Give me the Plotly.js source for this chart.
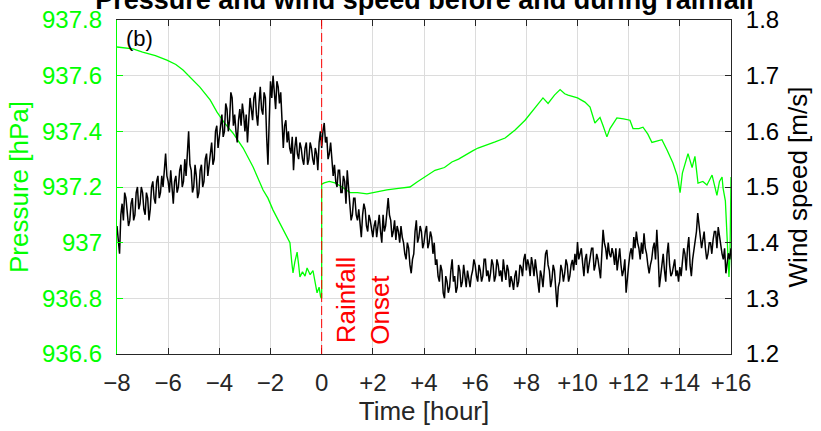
<!DOCTYPE html>
<html><head><meta charset="utf-8">
<script src="https://cdn.plot.ly/plotly-3.0.1.min.js"></script>
<style>html,body{margin:0;padding:0;background:#fff}#chart{width:821px;height:431px}</style>
</head><body><div id="chart"></div>
<script>
// ---- data ----
const pressureTime = [-8.0, -7.7, -7.375, -7.0, -6.5, -6.05, -5.7, -5.42, -5.1, -4.76,
  -4.36, -4.09, -3.8, -3.47, -3.07, -2.68, -2.29, -2.1, -1.9, -1.55,
  -1.3, -1.24, -1.17, -1.12, -1.05, -0.96, -0.9, -0.85, -0.75, -0.65,
  -0.57, -0.45, -0.34, -0.25, -0.18, -0.1, -0.04, 0.0, 0.0, 0.1,
  0.3, 0.52, 0.8, 1.11, 1.4, 1.77, 2.1, 2.55, 3.0, 3.45,
  3.73, 4.0, 4.23, 4.43, 4.8, 5.09, 5.35, 5.6, 5.9, 6.11,
  6.45, 6.78, 7.17, 7.56, 7.95, 8.34, 8.65, 8.85, 9.1, 9.32,
  9.5, 9.63, 10.0, 10.29, 10.49, 10.68, 10.88, 11.0, 11.15, 11.27,
  11.54, 11.8, 12.05, 12.17, 12.4, 12.56, 12.75, 12.91, 13.1, 13.3,
  13.5, 13.73, 13.9, 14.01, 14.1, 14.2, 14.32, 14.48, 14.59, 14.71,
  14.9, 15.06, 15.26, 15.45, 15.55, 15.65, 15.69, 15.78, 15.84, 15.92,
  15.96, 16.0];
const pressure = [937.703, 937.70, 937.696, 937.685, 937.672, 937.656, 937.64, 937.62, 937.59, 937.559,
  937.513, 937.469, 937.43, 937.394, 937.34, 937.272, 937.189, 937.16, 937.117, 937.053,
  937.01, 937.0, 936.93, 936.891, 936.93, 936.966, 936.92, 936.877, 936.895, 936.88,
  936.909, 936.885, 936.9, 936.86, 936.82, 936.84, 936.805, 936.80, 937.21, 937.215,
  937.22, 937.215, 937.2, 937.18, 937.18, 937.175, 937.182, 937.19, 937.195, 937.20,
  937.218, 937.235, 937.25, 937.26, 937.27, 937.29, 937.30, 937.315, 937.33, 937.34,
  937.35, 937.362, 937.376, 937.405, 937.44, 937.484, 937.52, 937.50, 937.53, 937.55,
  937.535, 937.53, 937.52, 937.505, 937.487, 937.43, 937.45, 937.42, 937.38, 937.41,
  937.448, 937.445, 937.44, 937.41, 937.41, 937.415, 937.39, 937.36, 937.365, 937.37,
  937.333, 937.286, 937.24, 937.18, 937.25, 937.286, 937.32, 937.27, 937.31, 937.214,
  937.22, 937.207, 937.243, 937.17, 937.22, 937.236, 937.196, 937.15, 937.01, 936.877,
  936.95, 937.236];

// wind speed sampled every 0.05 h from -8 h to +16 h (one row per hour)
const windSpeed = [
  1.43, 1.41, 1.38, 1.45, 1.47, 1.44, 1.49, 1.48, 1.46, 1.43, 1.44, 1.47, 1.48, 1.44, 1.45, 1.49, 1.50, 1.46, 1.47, 1.50,
  1.49, 1.46, 1.45, 1.49, 1.48, 1.44, 1.46, 1.50, 1.51, 1.48, 1.47, 1.51, 1.52, 1.48, 1.49, 1.52, 1.50, 1.53, 1.56, 1.52,
  1.51, 1.49, 1.53, 1.50, 1.47, 1.51, 1.52, 1.49, 1.50, 1.53, 1.54, 1.50, 1.51, 1.55, 1.52, 1.56, 1.60, 1.54, 1.53, 1.49,
  1.50, 1.54, 1.52, 1.48, 1.49, 1.53, 1.54, 1.50, 1.51, 1.55, 1.56, 1.52, 1.54, 1.57, 1.58, 1.54, 1.55, 1.60, 1.61, 1.57,
  1.59, 1.62, 1.63, 1.59, 1.60, 1.65, 1.64, 1.60, 1.62, 1.67, 1.66, 1.61, 1.63, 1.60, 1.58, 1.62, 1.64, 1.61, 1.65, 1.63,
  1.60, 1.63, 1.58, 1.62, 1.66, 1.64, 1.62, 1.66, 1.67, 1.63, 1.61, 1.65, 1.68, 1.64, 1.63, 1.67, 1.66, 1.59, 1.54, 1.62,
  1.69, 1.66, 1.70, 1.67, 1.64, 1.69, 1.68, 1.65, 1.67, 1.62, 1.57, 1.61, 1.62, 1.58, 1.60, 1.57, 1.56, 1.59, 1.53, 1.57,
  1.59, 1.56, 1.55, 1.58, 1.57, 1.55, 1.54, 1.57, 1.58, 1.54, 1.55, 1.58, 1.57, 1.55, 1.54, 1.57, 1.56, 1.53, 1.58, 1.60,
  1.57, 1.60, 1.615, 1.58, 1.59, 1.55, 1.56, 1.58, 1.55, 1.52, 1.54, 1.51, 1.50, 1.53, 1.53, 1.49, 1.49, 1.52, 1.51, 1.47,
  1.53, 1.49, 1.47, 1.44, 1.45, 1.48, 1.48, 1.45, 1.44, 1.46, 1.43, 1.41, 1.45, 1.47, 1.46, 1.43, 1.42, 1.45, 1.44, 1.42,
  1.41, 1.43, 1.44, 1.41, 1.43, 1.45, 1.42, 1.40, 1.45, 1.42, 1.43, 1.46, 1.48, 1.45, 1.44, 1.41, 1.42, 1.44, 1.405, 1.43,
  1.42, 1.40, 1.43, 1.41, 1.40, 1.38, 1.37, 1.40, 1.39, 1.36, 1.345, 1.37, 1.38, 1.42, 1.44, 1.40, 1.41, 1.43, 1.42, 1.39,
  1.40, 1.42, 1.43, 1.39, 1.40, 1.42, 1.41, 1.38, 1.40, 1.36, 1.37, 1.34, 1.33, 1.36, 1.35, 1.31, 1.30, 1.34, 1.33, 1.31,
  1.32, 1.35, 1.37, 1.33, 1.34, 1.31, 1.32, 1.36, 1.35, 1.32, 1.33, 1.36, 1.34, 1.32, 1.35, 1.33, 1.32, 1.34, 1.35, 1.37,
  1.36, 1.34, 1.33, 1.36, 1.35, 1.33, 1.34, 1.37, 1.37, 1.34, 1.35, 1.33, 1.345, 1.37, 1.36, 1.33, 1.34, 1.37, 1.36, 1.34,
  1.35, 1.33, 1.37, 1.35, 1.333, 1.36, 1.35, 1.32, 1.34, 1.33, 1.315, 1.34, 1.35, 1.32, 1.33, 1.36, 1.356, 1.34, 1.37, 1.38,
  1.35, 1.37, 1.36, 1.34, 1.374, 1.36, 1.34, 1.37, 1.35, 1.32, 1.31, 1.35, 1.34, 1.32, 1.36, 1.38, 1.387, 1.36, 1.35, 1.32,
  1.333, 1.36, 1.35, 1.31, 1.284, 1.32, 1.33, 1.36, 1.35, 1.33, 1.345, 1.37, 1.36, 1.33, 1.34, 1.36, 1.369, 1.35, 1.38, 1.36,
  1.401, 1.37, 1.38, 1.39, 1.363, 1.34, 1.37, 1.38, 1.345, 1.36, 1.37, 1.39, 1.39, 1.35, 1.36, 1.38, 1.37, 1.35, 1.336, 1.38,
  1.423, 1.40, 1.39, 1.37, 1.40, 1.38, 1.374, 1.39, 1.38, 1.36, 1.39, 1.35, 1.37, 1.39, 1.36, 1.34, 1.35, 1.37, 1.31, 1.34,
  1.36, 1.38, 1.39, 1.37, 1.41, 1.39, 1.42, 1.40, 1.39, 1.37, 1.40, 1.38, 1.417, 1.39, 1.38, 1.36, 1.345, 1.36, 1.37, 1.39,
  1.40, 1.37, 1.423, 1.38, 1.32, 1.34, 1.36, 1.38, 1.35, 1.33, 1.38, 1.40, 1.36, 1.34, 1.345, 1.36, 1.37, 1.34, 1.35, 1.33,
  1.356, 1.34, 1.37, 1.39, 1.38, 1.35, 1.39, 1.41, 1.36, 1.34, 1.37, 1.39, 1.40, 1.42, 1.453, 1.43, 1.42, 1.39, 1.405, 1.42,
  1.39, 1.37, 1.38, 1.40, 1.40, 1.38, 1.405, 1.42, 1.42, 1.39, 1.428, 1.41, 1.40, 1.38, 1.37, 1.39, 1.345, 1.36, 1.381, 1.37,
  1.39];
const windStart = -8, windStep = 0.05;

const timeTicks = [-8, -6, -4, -2, 0, 2, 4, 6, 8, 10, 12, 14, 16];
const timeTickText = ['\u22128', '\u22126', '\u22124', '\u22122', '0', '+2', '+4', '+6', '+8', '+10', '+12', '+14', '+16'];
const pressureTicks = [936.6, 936.8, 937, 937.2, 937.4, 937.6, 937.8];
const pressureTickText = ['936.6', '936.8', '937', '937.2', '937.4', '937.6', '937.8'];
const windTicks = [1.2, 1.3, 1.4, 1.5, 1.6, 1.7, 1.8];

// ---- chart ----
const windTime = windSpeed.map((_, i) => +(windStart + i * windStep).toFixed(3));
const FONT = '"Liberation Sans", Arial, Helvetica, sans-serif';
const GREEN = '#00ff00';
const AX = '#262626';
const GRID = '#dcdcdc';

const traces = [
  {x: pressureTime, y: pressure, type: 'scatter', mode: 'lines', yaxis: 'y',
   line: {color: GREEN, width: 1.3}, hoverinfo: 'skip'},
  {x: windTime, y: windSpeed, type: 'scatter', mode: 'lines', yaxis: 'y2',
   line: {color: '#000000', width: 1.5}, hoverinfo: 'skip'}
];

const layout = {
  width: 821, height: 431,
  margin: {l: 117, r: 90, t: 20, b: 77, pad: 0},
  paper_bgcolor: '#ffffff', plot_bgcolor: '#ffffff',
  showlegend: false,
  font: {family: FONT, size: 24, color: AX},
  title: {text: '<b>Pressure and wind speed before and during rainfall</b>',
          font: {family: FONT, size: 27, color: '#000'},
          x: 0.517, xanchor: 'center', xref: 'container',
          y: 1.0, yanchor: 'middle', yref: 'container'},
  xaxis: {range: [-8, 16], tickvals: timeTicks, ticktext: timeTickText,
          ticks: 'inside', ticklen: 6, tickcolor: AX, tickwidth: 1,
          showline: true, linecolor: AX, linewidth: 1, mirror: 'ticks',
          showgrid: true, gridcolor: GRID, gridwidth: 1, zeroline: false,
          tickfont: {size: 24, color: AX}, ticklabelstandoff: 7,
          title: {text: 'Time [hour]', font: {size: 26, color: AX}, standoff: 7}},
  yaxis: {range: [936.6, 937.8], tickvals: pressureTicks, ticktext: pressureTickText,
          ticks: 'inside', ticklen: 6, tickcolor: GREEN, tickwidth: 1,
          showline: true, linecolor: GREEN, linewidth: 1.2,
          showgrid: true, gridcolor: GRID, gridwidth: 1, zeroline: false,
          tickfont: {size: 24, color: GREEN}, ticklabelstandoff: 9,
          title: {text: 'Pressure [hPa]', font: {size: 26, color: GREEN}, standoff: 5}},
  yaxis2: {range: [1.2, 1.8], tickvals: windTicks, tickformat: '.1f',
           overlaying: 'y', side: 'right', anchor: 'x',
           ticks: 'inside', ticklen: 6, tickcolor: AX, tickwidth: 1,
           showline: true, linecolor: AX, linewidth: 1,
           showgrid: false, zeroline: false,
           tickfont: {size: 24, color: '#000'}, ticklabelstandoff: 9,
           title: {text: 'Wind speed [m/s]', font: {size: 26, color: '#000'}, standoff: 10}},
  shapes: [{type: 'line', xref: 'x', yref: 'paper', x0: 0, x1: 0, y0: 0, y1: 1,
            line: {color: '#ff0000', width: 1, dash: '9px,4px'}, layer: 'above'}],
  annotations: [
    {text: '(b)', xref: 'paper', yref: 'paper', x: 0.012, y: 0.946, xanchor: 'left', yanchor: 'middle',
     showarrow: false, font: {size: 22, color: '#000'}},
    {text: 'Rainfall', xref: 'x', yref: 'paper', x: 0.93, y: 0.162, xanchor: 'center', yanchor: 'middle',
     textangle: -90, showarrow: false, font: {size: 26, color: '#ff0000'}},
    {text: 'Onset', xref: 'x', yref: 'paper', x: 2.25, y: 0.133, xanchor: 'center', yanchor: 'middle',
     textangle: -90, showarrow: false, font: {size: 26, color: '#ff0000'}}
  ]
};

Plotly.newPlot('chart', traces, layout, {displayModeBar: false, staticPlot: true});
</script></body></html>
